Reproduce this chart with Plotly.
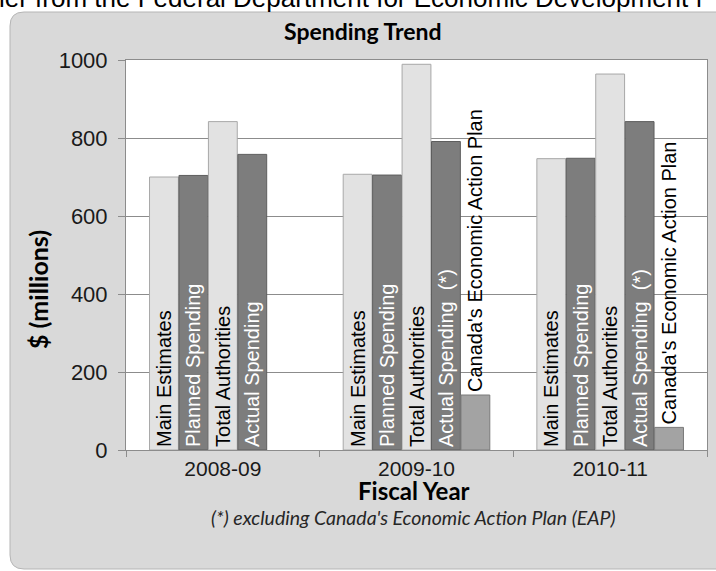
import plotly.graph_objects as go

# ---------------- data ----------------
categories = ["2008-09", "2009-10", "2010-11"]
series_names = ["Main Estimates", "Planned Spending", "Total Authorities",
                "Actual Spending", "Canada's Economic Action Plan"]
main_estimates = [700, 707, 747]
planned_spending = [704, 705, 748]
total_authorities = [842, 989, 964]
actual_spending = [758, 791, 842]
eap = [None, 141, 58]
actual_labels = ["Actual Spending", "Actual Spending  (*)", "Actual Spending  (*)"]
y_ticks = [0, 200, 400, 600, 800, 1000]

# ---------------- layout helpers (pixel -> paper) ----------------
W, H = 716, 571
ML, MR, MT, MB = 126, 9, 60, 121
PW, PH = W - ML - MR, H - MT - MB


def px(x):
    return (x - ML) / PW


def py(y):
    return (H - MB - y) / PH


LIGHT = "#e2e2e2"
DARK = "#7d7d7d"
MID = "#a3a3a3"
bar_font = "Liberation Sans, Arial, sans-serif"
calibri = "Lato, Carlito, Calibri, sans-serif"

fig = go.Figure()


def add_bar(vals, name, color, line, text, tcolor, pos):
    fig.add_trace(go.Bar(
        x=categories, y=vals, name=name,
        marker=dict(color=color, line=dict(color=line, width=1)),
        text=text, textposition=pos, insidetextanchor="start",
        textangle=-90, constraintext="none", cliponaxis=False,
        textfont=dict(family=bar_font, size=20, color=tcolor),
        hoverinfo="x+y+name",
    ))


add_bar(main_estimates, series_names[0], LIGHT, "#a8a8a8",
        [series_names[0]] * 3, "black", "inside")
add_bar(planned_spending, series_names[1], DARK, "#5e5e5e",
        [series_names[1]] * 3, "white", "inside")
add_bar(total_authorities, series_names[2], LIGHT, "#a8a8a8",
        [series_names[2]] * 3, "black", "inside")
add_bar(actual_spending, series_names[3], DARK, "#5e5e5e",
        actual_labels, "white", "inside")
add_bar(eap, series_names[4], MID, "#7a7a7a",
        ["", series_names[4], series_names[4]], "black", "outside")

# rounded grey chart frame
r = 14
x0, y0, x1, y1 = 10, 12, 740, 569
frame_path = (
    f"M {px(x0)},{py(y0 + r)} "
    f"Q {px(x0)},{py(y0)} {px(x0 + r)},{py(y0)} "
    f"L {px(x1)},{py(y0)} L {px(x1)},{py(y1)} "
    f"L {px(x0 + r)},{py(y1)} "
    f"Q {px(x0)},{py(y1)} {px(x0)},{py(y1 - r)} Z"
)

fig.update_layout(
    width=W, height=H,
    margin=dict(l=ML, r=MR, t=MT, b=MB),
    paper_bgcolor="white", plot_bgcolor="white",
    barmode="group", bargap=0.24, bargroupgap=0.02,
    showlegend=False,
    shapes=[
        dict(type="path", xref="paper", yref="paper", path=frame_path,
             fillcolor="#d9d9d9", line=dict(color="#b5b5b5", width=1),
             layer="below"),
        dict(type="rect", xref="paper", yref="paper", x0=0, x1=1, y0=0, y1=1,
             fillcolor="white", line=dict(width=0), layer="below"),
    ],
    xaxis=dict(
        type="category", showline=True, linecolor="#8c8c8c", linewidth=1,
        mirror=True, ticks="outside", tickson="boundaries", ticklen=6,
        tickcolor="#8c8c8c", showgrid=False,
        tickfont=dict(family=bar_font, size=21, color="#1a1a1a"),
    ),
    yaxis=dict(
        range=[0, 1000], tickvals=y_ticks, showline=True, linecolor="#8c8c8c",
        linewidth=1, mirror=True, ticks="outside", ticklen=7,
        tickcolor="#8c8c8c", showgrid=True, gridcolor="#8c8c8c", gridwidth=1,
        ticklabelstandoff=6, zeroline=False,
        tickfont=dict(family=bar_font, size=22, color="#1a1a1a"),
    ),
    annotations=[
        dict(text="ler from the Federal Department for Economic Development f",
             xref="paper", yref="paper", x=px(-3), y=py(-2),
             xanchor="left", yanchor="middle", showarrow=False,
             font=dict(family=bar_font, size=26, color="black")),
        dict(text="<b>Spending Trend</b>", xref="paper", yref="paper",
             x=px(363), y=py(31), xanchor="center", yanchor="middle",
             showarrow=False, font=dict(family=calibri, size=23, color="black")),
        dict(text="<b>$ (millions)</b>", xref="paper", yref="paper",
             x=px(38), y=py(290), xanchor="center", yanchor="middle",
             textangle=-90, showarrow=False,
             font=dict(family=calibri, size=25, color="black")),
        dict(text="<b>Fiscal Year</b>", xref="paper", yref="paper",
             x=px(414), y=py(490), xanchor="center", yanchor="middle",
             showarrow=False, font=dict(family=calibri, size=24, color="black")),
        dict(text="<i>(*) excluding Canada's Economic Action Plan (EAP)</i>",
             xref="paper", yref="paper", x=px(413), y=py(517),
             xanchor="center", yanchor="middle", showarrow=False,
             font=dict(family=calibri, size=19.5, color="#262626")),
    ],
)

fig.write_html("out.html",
               config={"displayModeBar": False},
               post_script="document.body.style.margin='0';"
                           "document.body.style.overflow='hidden';")
